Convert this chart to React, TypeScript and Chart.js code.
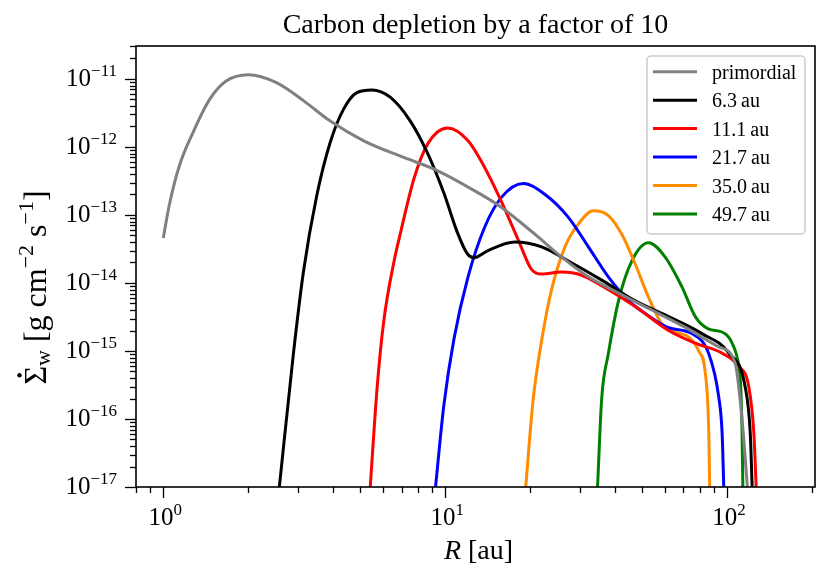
import React, { useEffect, useRef } from 'react';
import { Chart, registerables } from 'chart.js';
import type { Plugin } from 'chart.js';

Chart.register(...registerables);

const SERIF = '"Liberation Serif", "Times New Roman", serif';

const chartTitle = 'Carbon depletion by a factor of 10';
const seriesLabels = ['primordial', '6.3\u2009au', '11.1\u2009au', '21.7\u2009au', '35.0\u2009au', '49.7\u2009au'];
const seriesColors = ['#808080', '#000000', '#ff0000', '#0000ff', '#ff8c00', '#008000'];

// R in au, wind mass-loss rate in g cm^-2 s^-1
const primordialR = [1.0, 1.05, 1.14, 1.28, 1.46, 1.67, 2.0, 2.52, 3.14, 3.91, 5.14, 7.13, 9.37, 13.0, 15.8, 20.7, 25.9, 32.2, 41.2, 54.1, 70.8, 93.4, 106.8, 113, 118];
const primordialS = [4.6e-14, 1.4e-13, 5.3e-13, 1.7e-12, 5.0e-12, 9.3e-12, 1.15e-11, 8.8e-12, 4.8e-12, 2.4e-12, 1.23e-12, 7.0e-13, 4.5e-13, 2.15e-13, 1.3e-13, 5.3e-14, 2.4e-14, 1.23e-14, 7.1e-15, 4.0e-15, 2.24e-15, 1.15e-15, 6.6e-16, 9.8e-17, 1e-17];

const au6R = [2.58, 2.89, 3.14, 3.5, 3.91, 4.36, 4.86, 5.5, 6.38, 7.52, 8.63, 9.89, 11.03, 11.97, 12.65, 14.19, 17.65, 21.98, 27.35, 35.9, 47.1, 62.0, 81.4, 101.4, 115.9, 120.8, 122.7];
const au6S = [1e-17, 8.7e-16, 1.45e-14, 1.9e-13, 1.17e-12, 3.6e-12, 6.3e-12, 6.9e-12, 5.4e-12, 2.4e-12, 8.3e-13, 2.1e-13, 5.6e-14, 2.7e-14, 2.35e-14, 3.0e-14, 4.0e-14, 3.4e-14, 2.1e-14, 1.1e-14, 5.5e-15, 3.2e-15, 1.8e-15, 9.3e-16, 2.95e-16, 6.2e-17, 1e-17];

const au11R = [5.42, 5.73, 6.05, 6.57, 6.97, 7.76, 8.68, 10.2, 12.05, 13.8, 15.8, 18.2, 20.2, 22.0, 25.9, 30.5, 35.9, 47.2, 62.0, 77.1, 95.9, 110.1, 119.4, 124.4, 126.8];
const au11S = [1e-17, 2.8e-16, 2.7e-15, 2.0e-14, 5.9e-14, 3.5e-13, 1.12e-12, 1.9e-12, 1.23e-12, 5.0e-13, 1.6e-13, 4.2e-14, 1.6e-14, 1.35e-14, 1.45e-14, 1.3e-14, 9.1e-15, 4.5e-15, 2.0e-15, 1.3e-15, 9.3e-16, 5.9e-16, 2.95e-16, 6.2e-17, 1e-17];

const au21R = [9.24, 9.89, 10.74, 12.05, 13.8, 15.8, 18.9, 22.6, 27.3, 32.2, 37.9, 44.7, 52.6, 62.0, 75.0, 86.1, 93.4, 96.0, 97.3];
const au21S = [1e-17, 1.6e-16, 1.5e-15, 1.23e-14, 6.6e-14, 1.8e-13, 2.9e-13, 2.0e-13, 9.3e-14, 3.4e-14, 1.23e-14, 5.5e-15, 3.3e-15, 2.2e-15, 1.8e-15, 9.1e-16, 2.1e-16, 6.2e-17, 1e-17];

const au35R = [19.3, 20.5, 22.0, 23.8, 26.6, 29.7, 33.5, 37.9, 42.3, 47.2, 52.6, 58.7, 65.5, 73.1, 79.3, 83.7, 86.1, 86.7];
const au35S = [1e-17, 1.9e-16, 1.45e-15, 7.8e-15, 3.4e-14, 7.4e-14, 1.15e-13, 9.8e-14, 5.2e-14, 1.9e-14, 6.2e-15, 2.5e-15, 1.9e-15, 1.6e-15, 1.0e-15, 4.7e-16, 6.2e-17, 1e-17];

const au49R = [34.7, 35.9, 37.9, 41.2, 45.9, 52.6, 60.3, 69.2, 77.1, 86.1, 95.9, 104.2, 110.1, 111.6, 113.0, 113.7];
const au49S = [1e-17, 2.0e-16, 9.1e-16, 5.5e-15, 2.1e-14, 3.9e-14, 2.4e-14, 8.7e-15, 3.2e-15, 2.1e-15, 1.9e-15, 1.3e-15, 5.9e-16, 3.3e-16, 6.2e-17, 1e-17];

const seriesR = [primordialR, au6R, au11R, au21R, au35R, au49R];
const seriesS = [primordialS, au6S, au11S, au21S, au35S, au49S];

const xTickExps = [0, 1, 2];
const yTickExps = [-17, -16, -15, -14, -13, -12, -11];
const minorMults = [2, 3, 4, 5, 6, 7, 8, 9];

const X_MIN = 0.8;
const X_MAX = 205;
const Y_MIN = 1e-17;
const Y_MAX = 3.05e-11;

type Seg = { t: string; size: number; dy?: number; italic?: boolean };

const segFont = (s: Seg) => `${s.italic ? 'italic ' : ''}${s.size}px ${SERIF}`;

function segsWidth(ctx: CanvasRenderingContext2D, segs: Seg[]) {
  let w = 0;
  for (const s of segs) {
    ctx.font = segFont(s);
    w += ctx.measureText(s.t).width;
  }
  return w;
}

// draws pieces of text one after another, returns left x of every piece
function drawSegs(ctx: CanvasRenderingContext2D, segs: Seg[], x: number, y: number) {
  const xs: number[] = [];
  let cx = x;
  for (const s of segs) {
    ctx.font = segFont(s);
    xs.push(cx);
    ctx.fillText(s.t, cx, y + (s.dy ?? 0));
    cx += ctx.measureText(s.t).width;
  }
  return xs;
}

const powerLabel = (e: number): Seg[] => [
  { t: '10', size: 25 },
  { t: e < 0 ? '\u2212' + Math.abs(e) : String(e), size: 17, dy: -10 },
];

const decorations: Plugin<'line'> = {
  id: 'decorations',
  afterDatasetsDraw(chart) {
    const { ctx, chartArea } = chart;
    const { left, right, top, bottom } = chartArea;
    const xs = chart.scales.x;
    const ys = chart.scales.y;
    ctx.save();
    ctx.fillStyle = '#000';
    ctx.strokeStyle = '#000';
    ctx.textBaseline = 'alphabetic';

    // spines
    ctx.lineWidth = 1.6;
    ctx.strokeRect(left, top, right - left, bottom - top);

    // ticks
    ctx.lineWidth = 1.3;
    const tickX = (vals: number[], major: boolean) => {
      const len = major ? 11 : 6;
      for (const v of vals) {
        if (v >= X_MIN && v <= X_MAX) {
          const px = Math.round(xs.getPixelForValue(v)) + 0.5;
          ctx.beginPath();
          ctx.moveTo(px, bottom);
          ctx.lineTo(px, bottom + len);
          ctx.stroke();
        }
      }
    };
    const tickY = (vals: number[], major: boolean) => {
      const len = major ? 11 : 6;
      for (const v of vals) {
        if (v >= Y_MIN && v <= Y_MAX) {
          const py = Math.round(ys.getPixelForValue(v)) + 0.5;
          ctx.beginPath();
          ctx.moveTo(left, py);
          ctx.lineTo(left - len, py);
          ctx.stroke();
        }
      }
    };
    for (let e = -1; e <= 2; e++) {
      tickX([Math.pow(10, e)], true);
      tickX(minorMults.map((m) => m * Math.pow(10, e)), false);
    }
    for (let e = -17; e <= -11; e++) {
      tickY([Math.pow(10, e)], true);
      tickY(minorMults.map((m) => m * Math.pow(10, e)), false);
    }

    // tick labels
    for (const e of xTickExps) {
      const segs = powerLabel(e);
      const w = segsWidth(ctx, segs);
      const px = xs.getPixelForValue(Math.pow(10, e));
      drawSegs(ctx, segs, px - w / 2 + 2, bottom + 38);
    }
    for (const e of yTickExps) {
      const segs = powerLabel(e);
      const w = segsWidth(ctx, segs);
      const py = ys.getPixelForValue(Math.pow(10, e));
      drawSegs(ctx, segs, left - 19 - w, py + 7);
    }

    // title
    ctx.font = `28px ${SERIF}`;
    ctx.textAlign = 'center';
    ctx.fillText(chartTitle, (left + right) / 2, 33);
    ctx.textAlign = 'left';

    // x axis label
    const xl: Seg[] = [
      { t: 'R', size: 28, italic: true },
      { t: ' [au]', size: 28 },
    ];
    const xlw = segsWidth(ctx, xl);
    drawSegs(ctx, xl, (left + right) / 2 + 3 - xlw / 2, 559);

    // y axis label, rotated
    const yl: Seg[] = [
      { t: '\u03a3', size: 32 },
      { t: 'w', size: 22, dy: 4 },
      { t: ' [g cm', size: 32 },
      { t: '\u22122', size: 22, dy: -13 },
      { t: ' s', size: 32 },
      { t: '\u22121', size: 22, dy: -13 },
      { t: ']', size: 32 },
    ];
    ctx.save();
    ctx.translate(46, (top + bottom) / 2 + 21);
    ctx.rotate(-Math.PI / 2);
    const ylw = segsWidth(ctx, yl);
    const pos = drawSegs(ctx, yl, -ylw / 2, 0);
    ctx.font = segFont(yl[0]);
    const sigW = ctx.measureText(yl[0].t).width;
    ctx.beginPath();
    ctx.arc(pos[0] + sigW / 2, -26.5, 2.2, 0, Math.PI * 2);
    ctx.fill();
    ctx.restore();

    // legend
    const lx = right - 168;
    const ly = top + 10;
    const lw = 158;
    const lh = 178;
    ctx.beginPath();
    ctx.roundRect(lx, ly, lw, lh, 4);
    ctx.fillStyle = 'rgba(255,255,255,0.8)';
    ctx.fill();
    ctx.strokeStyle = '#cccccc';
    ctx.lineWidth = 1.5;
    ctx.stroke();
    seriesLabels.forEach((label, i) => {
      const ry = ly + 15.7 + i * 28.45;
      ctx.strokeStyle = seriesColors[i];
      ctx.lineWidth = 3;
      ctx.beginPath();
      ctx.moveTo(lx + 6, ry);
      ctx.lineTo(lx + 50, ry);
      ctx.stroke();
      ctx.fillStyle = '#000';
      ctx.font = `20px ${SERIF}`;
      ctx.fillText(label, lx + 65, ry + 7);
    });

    ctx.restore();
  },
};

const App = () => {
  const canvasRef = useRef<HTMLCanvasElement>(null);

  useEffect(() => {
    document.body.style.margin = '0';
    if (!canvasRef.current) {
      return;
    }
    const chart = new Chart(canvasRef.current, {
      type: 'line',
      data: {
        datasets: seriesLabels.map((label, i) => ({
          label,
          data: seriesR[i].map((r, j) => ({ x: r, y: seriesS[i][j] })),
          borderColor: seriesColors[i],
          backgroundColor: seriesColors[i],
          borderWidth: 3,
          pointRadius: 0,
          fill: false,
          cubicInterpolationMode: 'monotone' as const,
          borderJoinStyle: 'round' as const,
        })),
      },
      options: {
        animation: false,
        responsive: false,
        layout: { padding: { left: 136, top: 46, right: 15, bottom: 92 } },
        scales: {
          x: { type: 'logarithmic', min: X_MIN, max: X_MAX, display: false },
          y: { type: 'logarithmic', min: Y_MIN, max: Y_MAX, display: false },
        },
        plugins: {
          legend: { display: false },
          tooltip: { enabled: false },
        },
      },
      plugins: [decorations],
    });
    return () => {
      chart.destroy();
    };
  }, []);

  return (
    <div style={{ width: 830, height: 579 }}>
      <canvas ref={canvasRef} width={830} height={579}></canvas>
    </div>
  );
};

export default App;
